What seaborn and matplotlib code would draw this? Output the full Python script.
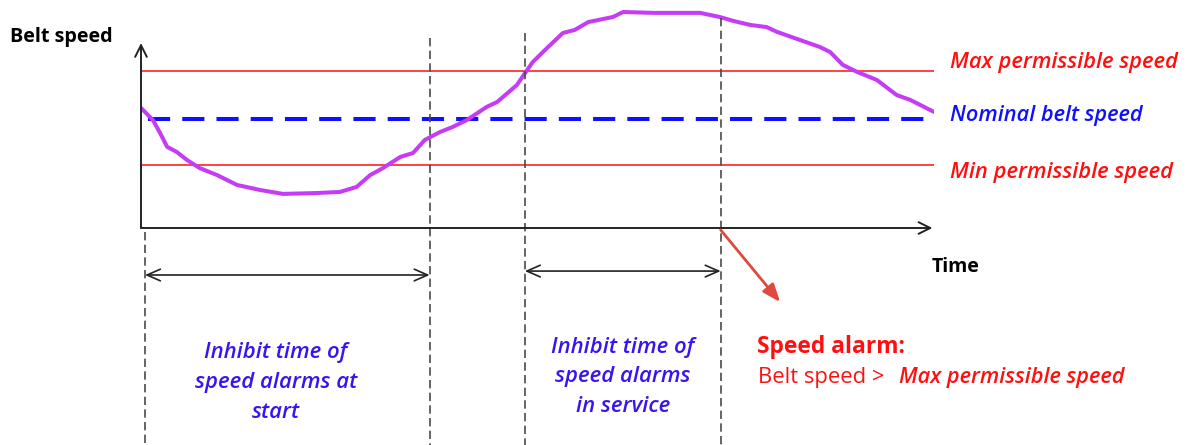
import matplotlib
matplotlib.use("Agg")
import matplotlib.pyplot as plt
import seaborn as sns

# Belt speed sketch: time (0-100) and speed (arbitrary units)
time = [0, 1.5, 2.4, 3.3, 4.5, 5.8, 7.4, 9.6, 12.1, 15.0, 17.9, 22.2, 25.1, 27.2,
        28.9, 30.5, 32.7, 34.3, 35.8, 37.7, 39.3, 41.1, 43.6, 44.9, 47.4, 48.7,
        49.4, 51.2, 53.2, 54.7, 56.4, 59.5, 60.8, 64.6, 70.5, 73.0, 74.7, 76.8,
        78.9, 80.2, 83.1, 85.6, 86.9, 88.5, 90.3, 92.8, 95.3, 97.0, 100]
speed = [54.9, 49.4, 43.5, 37.1, 34.8, 31.1, 27.4, 24.2, 19.7, 17.4, 15.6, 16.0,
         16.5, 18.8, 24.2, 27.4, 32.5, 34.3, 40.3, 43.9, 46.2, 49.4, 55.4, 57.6,
         65.4, 72.3, 75.9, 82.3, 89.2, 90.6, 94.2, 96.5, 98.8, 98.4, 98.4, 96.5,
         94.7, 92.9, 91.9, 89.7, 86.0, 82.8, 80.5, 74.6, 71.4, 67.7, 60.8, 58.6, 53.1]

max_speed = 72
nominal_speed = 50
min_speed = 29

# inhibit windows (start, end) on the time axis
inhibit_start = (0.5, 36.4)
inhibit_service = (48.4, 73.1)

limit_labels = ["Max permissible speed", "Nominal belt speed", "Min permissible speed"]
inhibit_labels = [["Inhibit time of", "speed alarms at", "start"],
                  ["Inhibit time of", "speed alarms", "in service"]]

W, H = 1187, 445
RED = "#ff1010"
BLUE = "#1010ff"
TXT_BLUE = "#3a14f0"
PURPLE = "#c63cf6"
DARK = "#222222"
GREY = "#4a4a4a"

sns.set_theme(style="white")
plt.rcParams["font.family"] = ["Open Sans", "DejaVu Sans"]

fig = plt.figure(figsize=(W / 100, H / 100), dpi=100)
ax = fig.add_axes([141 / W, (H - 228) / H, 793 / W, 223 / H])
ax.set_xlim(0, 100)
ax.set_ylim(0, 102)
ax.axis("off")

# limit lines
ax.plot([0, 100], [max_speed, max_speed], color=RED, lw=1.1)
ax.plot([0, 100], [min_speed, min_speed], color=RED, lw=1.1)
ax.plot([0.9, 100], [nominal_speed, nominal_speed], color=BLUE, lw=2.9,
        dashes=(5.5, 3.0))

# belt speed curve
sns.lineplot(x=time, y=speed, ax=ax, color=PURPLE, lw=2.9)

# axes arrows
arrow_kw = dict(arrowstyle="->,head_length=0.7,head_width=0.35", color=DARK,
                lw=1.4, shrinkA=0, shrinkB=0)
ax.annotate("", xy=(0, 84.6), xytext=(0, 0), arrowprops=arrow_kw,
            annotation_clip=False)
ax.annotate("", xy=(99.8, 0), xytext=(0, 0), arrowprops=arrow_kw,
            annotation_clip=False)

# dashed markers of the inhibit windows
tops = {inhibit_start[0]: -1.8, inhibit_start[1]: 86.9,
        inhibit_service[0]: 89.2, inhibit_service[1]: 96.1}
for t, top in tops.items():
    ax.plot([t, t], [top, -100], color=GREY, lw=1.2, ls=(0, (5, 2.6)),
            clip_on=False)

# double arrows spanning the windows
dbl_kw = dict(arrowstyle="<->,head_length=0.8,head_width=0.35", color=DARK,
              lw=1.2, shrinkA=0, shrinkB=0)
ax.annotate("", xy=(inhibit_start[1], -21.5), xytext=(inhibit_start[0], -21.5),
            arrowprops=dbl_kw, annotation_clip=False)
ax.annotate("", xy=(inhibit_service[1], -19.7), xytext=(inhibit_service[0], -19.7),
            arrowprops=dbl_kw, annotation_clip=False)

# red arrow to alarm text
ax.annotate("", xy=(80.6, -33.9), xytext=(inhibit_service[1], -0.9),
            arrowprops=dict(arrowstyle="-|>,head_length=0.9,head_width=0.35",
                            color="#e2483e", lw=2.0, shrinkA=0, shrinkB=0),
            annotation_clip=False)

renderer = fig.canvas.get_renderer()


def ftext(x, y, s, **kw):
    # x, y in pixels from the top-left corner, y is the baseline
    return fig.text(x / W, 1 - y / H, s, va="baseline", **kw)


def fit(texts, width):
    # scale font so the widest of the texts is `width` pixels wide
    w = max(t.get_window_extent(renderer).width for t in texts)
    for t in texts:
        t.set_fontsize(t.get_fontsize() * width / w)


fit([ftext(10, 42, "Belt speed", fontsize=12, fontweight="bold",
           color="black")], 103)
fit([ftext(932, 272, "Time", fontsize=12, fontweight="bold", color="black")], 48)

for label, y, c, w in zip(limit_labels, [68, 121, 178], [RED, BLUE, RED],
                          [228, 192, 223]):
    fit([ftext(950, y, label, fontsize=13, style="italic", fontweight="semibold",
               color=c)], w)

for lines, x, ys, w in zip(inhibit_labels, [276, 623],
                           [[358, 388, 418], [353, 382, 412]], [161, 143]):
    txts = [ftext(x, y, s, fontsize=13, style="italic", fontweight="semibold",
                  color=TXT_BLUE, ha="center") for s, y in zip(lines, ys)]
    fit(txts, w)

fit([ftext(757, 353, "Speed alarm:", fontsize=15, fontweight="bold",
           color=RED)], 148)
fit([ftext(758, 383, "Belt speed >", fontsize=12, color=RED)], 125)
fit([ftext(899, 383, "Max permissible speed", fontsize=13, style="italic",
           fontweight="semibold", color=RED)], 226)

fig.savefig("out.png", dpi=100)
